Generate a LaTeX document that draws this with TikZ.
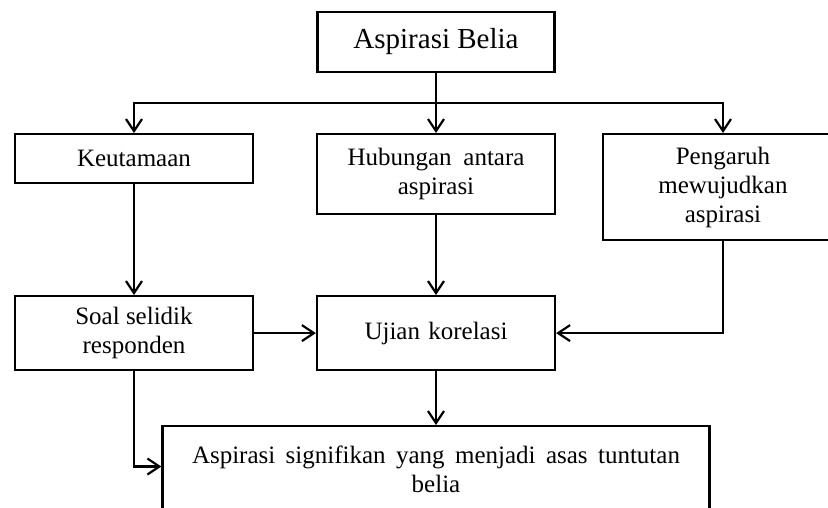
\documentclass[tikz,border=0pt]{standalone}
\usepackage{fontspec}
\setmainfont{Liberation Serif}
\usetikzlibrary{positioning,arrows.meta}
\begin{document}
\begin{tikzpicture}
[x=1pt,y=-1pt,line width=2.2pt,
 box/.style={draw,line width=2.2pt,align=center,inner sep=0pt,
   font=\fontsize{25}{29}\selectfont},
 arr/.style={-{Straight Barb[length=12pt,width=16pt,line width=2.2pt]}}]
\useasboundingbox (0,0) rectangle (828,507);
\clip (0,0) rectangle (828,507);
\node[box,minimum width=237pt,minimum height=60pt,font=\fontsize{29}{34}\selectfont](asp) at (436,42){Aspirasi Belia};
\node[box,anchor=north,minimum width=238pt,minimum height=49pt](keu) at (134,133){Keutamaan};
\node[box,anchor=north,minimum width=238pt,minimum height=80pt](hub) at (436,133){\makebox[177pt][s]{Hubungan antara}\\aspirasi};
\node[box,anchor=north,minimum width=240pt,minimum height=106pt](pen) at (723,133){Pengaruh\\mewujudkan\\aspirasi};
\node[box,anchor=north,minimum width=238pt,minimum height=74pt](soal) at (134,295){Soal selidik\\responden};
\node[box,anchor=north,minimum width=238pt,minimum height=74pt](uji) at (436,295){\makebox[143pt][s]{Ujian korelasi}};
\node[box,anchor=north,minimum width=547pt,inner ysep=20pt](sig) at (436,425){\makebox[488pt][s]{Aspirasi signifikan yang menjadi asas tuntutan}\\belia};
\coordinate (split) at (436,103);
\draw (asp) -- (split);
\draw[arr] (split) -| (keu);
\draw[arr] (split) -- (hub);
\draw[arr] (split) -| (pen);
\draw[arr] (keu) -- (soal);
\draw[arr] (hub) -- (uji);
\draw[arr] (pen) |- (uji);
\draw[arr] (soal) -- (uji);
\draw[arr] (uji) -- (sig);
\draw[arr] (soal) |- ([yshift=3pt]sig.west);
\end{tikzpicture}
\end{document}
